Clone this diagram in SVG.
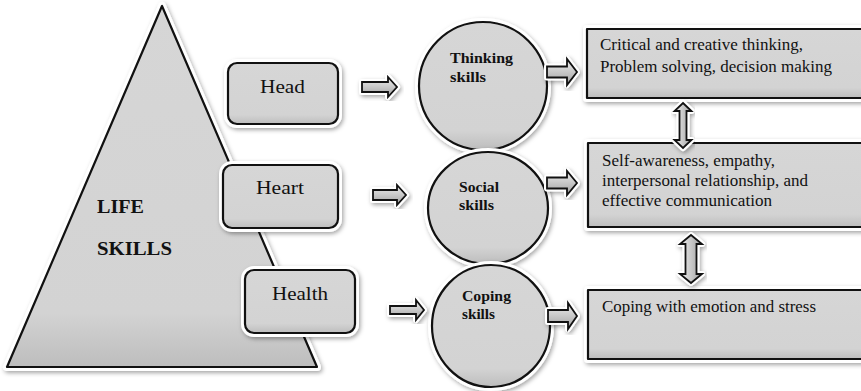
<svg xmlns="http://www.w3.org/2000/svg" width="861" height="391" viewBox="0 0 861 391">
<defs>
<filter id="sh" x="-20%" y="-20%" width="140%" height="140%">
<feDropShadow dx="1.5" dy="2" stdDeviation="2" flood-color="#000" flood-opacity="0.35"/>
</filter>
<linearGradient id="g" x1="0" y1="0" x2="0" y2="1">
<stop offset="0" stop-color="#d6d6d6"/>
<stop offset="0.85" stop-color="#d3d3d3"/>
<stop offset="1" stop-color="#bdbdbd"/>
</linearGradient>
<linearGradient id="ga" x1="0" y1="0" x2="0" y2="1">
<stop offset="0" stop-color="#eeeeee"/>
<stop offset="0.5" stop-color="#c8c8c8"/>
<stop offset="1" stop-color="#a0a0a0"/>
</linearGradient>
<linearGradient id="gv" x1="0" y1="0" x2="1" y2="0">
<stop offset="0" stop-color="#eeeeee"/>
<stop offset="0.5" stop-color="#c8c8c8"/>
<stop offset="1" stop-color="#a0a0a0"/>
</linearGradient>
</defs>
<style>
.halo{fill:#fff;stroke:#fff;stroke-width:8;stroke-linejoin:round;filter:url(#sh)}
.shape{fill:url(#g);stroke:#111;stroke-width:2.2;stroke-linejoin:round}
.arr{fill:url(#ga);stroke:#111;stroke-width:1.8;stroke-linejoin:miter}
.varr{fill:url(#gv);stroke:#111;stroke-width:1.8;stroke-linejoin:miter}
.ahalo{fill:#fff;stroke:#fff;stroke-width:6;stroke-linejoin:round;filter:url(#sh)}
text{font-family:'Liberation Serif','DejaVu Serif','Times New Roman',serif;fill:#111}
.t{font-size:16px}
.tb{font-size:15px;font-weight:bold}
.tl{font-size:18px;font-weight:bold}
.tn{font-size:18px}
</style>

<g id="life-skills">
<polygon class="halo" points="162,6 7,367 317,367"/>
<polygon class="shape" points="162,6 7,367 317,367"/>
<text class="tl" x="97" y="213" textLength="47" lengthAdjust="spacingAndGlyphs">LIFE</text>
<text class="tl" x="97" y="255" textLength="75" lengthAdjust="spacingAndGlyphs">SKILLS</text>
</g>

<g id="head">
<rect class="halo" x="228" y="63" width="110" height="61" rx="9"/>
<rect class="shape" x="228" y="63" width="110" height="61" rx="9"/>
<text class="tn" x="260" y="93" textLength="45" lengthAdjust="spacingAndGlyphs">Head</text>
</g>
<g id="heart">
<rect class="halo" x="223" y="165" width="115" height="63" rx="9"/>
<rect class="shape" x="223" y="165" width="115" height="63" rx="9"/>
<text class="tn" x="256" y="194" textLength="48" lengthAdjust="spacingAndGlyphs">Heart</text>
</g>
<g id="health">
<rect class="halo" x="245" y="270" width="110" height="63" rx="9"/>
<rect class="shape" x="245" y="270" width="110" height="63" rx="9"/>
<text class="tn" x="272" y="300" textLength="56" lengthAdjust="spacingAndGlyphs">Health</text>
</g>

<g id="thinking">
<ellipse class="halo" cx="483" cy="86" rx="64" ry="64"/>
<ellipse class="shape" cx="483" cy="86" rx="64" ry="64"/>
<text class="tb" x="450" y="63" textLength="63" lengthAdjust="spacingAndGlyphs">Thinking</text>
<text class="tb" x="450" y="82" textLength="36" lengthAdjust="spacingAndGlyphs">skills</text>
</g>
<g id="social">
<ellipse class="halo" cx="488" cy="208" rx="60" ry="56"/>
<ellipse class="shape" cx="488" cy="208" rx="60" ry="56"/>
<text class="tb" x="459" y="192" textLength="40" lengthAdjust="spacingAndGlyphs">Social</text>
<text class="tb" x="459" y="210" textLength="35" lengthAdjust="spacingAndGlyphs">skills</text>
</g>
<g id="coping">
<ellipse class="halo" cx="491" cy="326" rx="59" ry="61"/>
<ellipse class="shape" cx="491" cy="326" rx="59" ry="61"/>
<text class="tb" x="462" y="301" textLength="49" lengthAdjust="spacingAndGlyphs">Coping</text>
<text class="tb" x="462" y="319" textLength="33" lengthAdjust="spacingAndGlyphs">skills</text>
</g>

<g id="box-thinking">
<rect class="halo" x="587" y="29" width="280" height="69"/>
<rect class="shape" x="587" y="29" width="280" height="69"/>
<text class="t" x="600" y="50" textLength="203" lengthAdjust="spacingAndGlyphs">Critical and creative thinking,</text>
<text class="t" x="600" y="72" textLength="232" lengthAdjust="spacingAndGlyphs">Problem solving, decision making</text>
</g>
<g id="box-social">
<rect class="halo" x="588" y="143" width="280" height="84"/>
<rect class="shape" x="588" y="143" width="280" height="84"/>
<text class="t" x="602" y="166" textLength="173" lengthAdjust="spacingAndGlyphs">Self-awareness, empathy,</text>
<text class="t" x="602" y="186" textLength="206" lengthAdjust="spacingAndGlyphs">interpersonal relationship, and</text>
<text class="t" x="602" y="206" textLength="170" lengthAdjust="spacingAndGlyphs">effective communication</text>
</g>
<g id="box-coping">
<rect class="halo" x="588" y="290" width="280" height="69"/>
<rect class="shape" x="588" y="290" width="280" height="69"/>
<text class="t" x="602" y="312" textLength="214" lengthAdjust="spacingAndGlyphs">Coping with emotion and stress</text>
</g>

<g id="connectors">
<path class="ahalo" d="M362,82 H388 V77 L397,87 L388,97 V92 H362 Z"/>
<path class="arr" d="M362,82 H388 V77 L397,87 L388,97 V92 H362 Z"/>
<path class="ahalo" d="M373,190 H397 V185 L406,195 L397,205 V200 H373 Z"/>
<path class="arr" d="M373,190 H397 V185 L406,195 L397,205 V200 H373 Z"/>
<path class="ahalo" d="M390,306 H416 V300 L424,310 L416,320 V314 H390 Z"/>
<path class="arr" d="M390,306 H416 V300 L424,310 L416,320 V314 H390 Z"/>

<path class="ahalo" d="M547,66.5 H567 V59 L577,72 L567,85 V77.5 H547 Z"/>
<path class="arr" d="M547,66.5 H567 V59 L577,72 L567,85 V77.5 H547 Z"/>
<path class="ahalo" d="M547,177.5 H567 V171 L577,183 L567,195 V188.5 H547 Z"/>
<path class="arr" d="M547,177.5 H567 V171 L577,183 L567,195 V188.5 H547 Z"/>
<path class="ahalo" d="M548,310 H568 V303 L577,316 L568,329 V322 H548 Z"/>
<path class="arr" d="M548,310 H568 V303 L577,316 L568,329 V322 H548 Z"/>

<path class="ahalo" d="M683,103 L691.5,111 H686.5 V140 H691.5 L683,148 L674.5,140 H679.5 V111 H674.5 Z"/>
<path class="varr" d="M683,103 L691.5,111 H686.5 V140 H691.5 L683,148 L674.5,140 H679.5 V111 H674.5 Z"/>
<path class="ahalo" d="M691,235 L702,244 H696.5 V274 H702 L691,283 L680,274 H685.5 V244 H680 Z"/>
<path class="varr" d="M691,235 L702,244 H696.5 V274 H702 L691,283 L680,274 H685.5 V244 H680 Z"/>
</g>
</svg>
